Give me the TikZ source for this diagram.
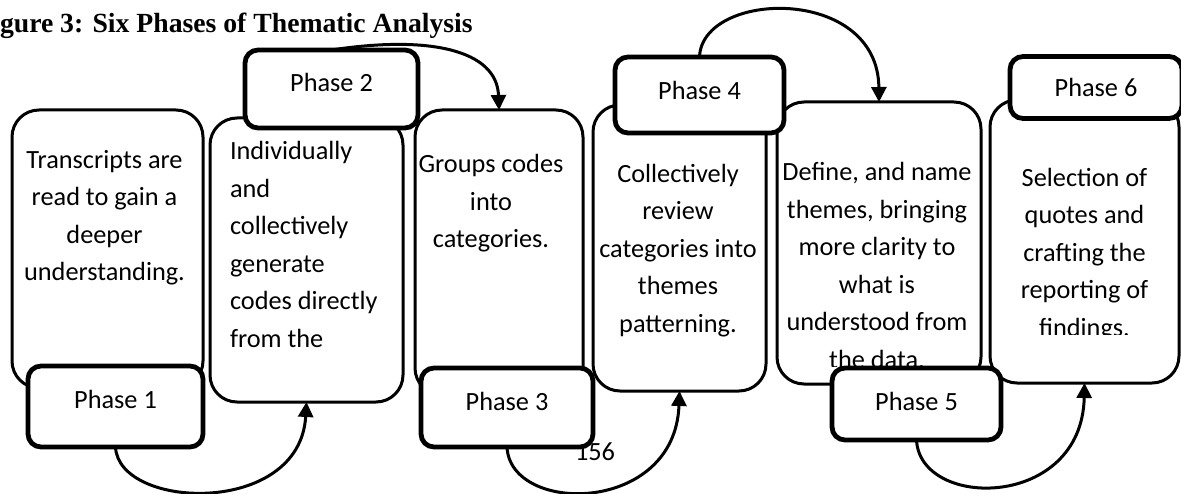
\documentclass[tikz,border=0pt]{standalone}
\usepackage{fontspec}
\setmainfont{Carlito}
\newfontfamily\titlefont{Liberation Serif}
\usetikzlibrary{arrows.meta}
\begin{document}
\begin{tikzpicture}[x=1pt,y=-1pt,
  every node/.style={inner sep=0pt, outer sep=0pt},
  body/.style={font=\fontsize{26.3}{37.5}\selectfont},
  content/.style={draw, line width=3pt, rounded corners=27pt, fill=white},
  phase/.style={draw, line width=4.8pt, rounded corners=13pt, fill=white, body, text height=18.5pt, text depth=#1},
  flow/.style={line width=3pt, -{Triangle[width=15pt,length=15pt]}},
  boxtext/.style={body, align=center, anchor=base}
]
\useasboundingbox (0,0) rectangle (1181,494);

\node[font=\titlefont\bfseries\fontsize{27.7}{30}\selectfont, anchor=base west] (title) at (0,32.3) {gure 3: Six Phases of Thematic Analysis};

% content boxes
\node[content, minimum width=191pt, minimum height=278pt] (b1) at (107.5,249) {};
\node[content, minimum width=193pt, minimum height=284pt] (b2) at (306.5,260) {};
\node[content, minimum width=168pt, minimum height=285pt] (b3) at (499,252.5) {};
\node[content, minimum width=173pt, minimum height=286pt] (b4) at (679.5,248) {};
\node[content, minimum width=204pt, minimum height=282pt] (b5) at (879,243) {};
\node[content, minimum width=189pt, minimum height=283pt] (b6) at (1084.5,241.5) {};

% texts (base anchor = baseline of last line)
\node[boxtext] (t1) at (104.5,281) {Transcripts are\\read to gain a\\deeper\\understanding.};
\begin{scope}
\clip (210,118) rectangle (403,366);
\node[body, align=left, anchor=base west] (t2) at (230,347.5) {Individually\\and\\collectively\\generate\\codes directly\\from the};
\end{scope}
\node[boxtext] (t3) at (491,247.7) {Groups codes\\into\\categories.};
\node[boxtext] (t4) at (678,332.3) {Collectively\\review\\categories into\\themes\\patterning.};
\begin{scope}
\clip (777,100) rectangle (981,366);
\node[boxtext] (t5) at (877,368) {Define, and name\\themes, bringing\\more clarity to\\what is\\understood from\\the data.};
\end{scope}
\begin{scope}
\clip (990,100) rectangle (1179,334.5);
\node[boxtext] (t6) at (1084.5,336.5) {Selection of\\quotes and\\crafting the\\reporting of\\findings.};
\end{scope}

\node[body, anchor=base] (pg) at (595,460) {156};

% phase boxes
\node[phase=15.5pt, minimum width=175pt, minimum height=81pt] (p1) at (115.5,406.5) {Phase 1};
\node[phase=12.5pt, minimum width=173pt, minimum height=78pt] (p2) at (331.5,89) {Phase 2};
\node[phase=12.5pt, minimum width=172pt, minimum height=79pt] (p3) at (507,407.5) {Phase 3};
\node[phase=9.5pt, minimum width=169pt, minimum height=76pt] (p4) at (699.5,95) {Phase 4};
\node[phase=6.5pt, minimum width=169pt, minimum height=72pt] (p5) at (916.5,404) {Phase 5};
\node[phase=-3.4pt, minimum width=172pt, minimum height=62pt] (p6) at (1096,87.5) {Phase 6};

% arrows
\draw[flow] (p1.south) .. controls +(3,63) and +(-6.5,115) .. (b2.south);
\draw[flow] (p2.north) .. controls +(98,-15) and +(-2,-60) .. (b3.north);
\draw[flow] (p3.south) .. controls +(3,68) and +(-4.5,124) .. (b4.south);
\draw[flow] (p4.north) .. controls +(2.5,-67) and +(-1,-117) .. (b5.north);
\draw[flow] (p5.south) .. controls +(3.5,70) and +(-2.5,127) .. (b6.south);
\end{tikzpicture}
\end{document}
